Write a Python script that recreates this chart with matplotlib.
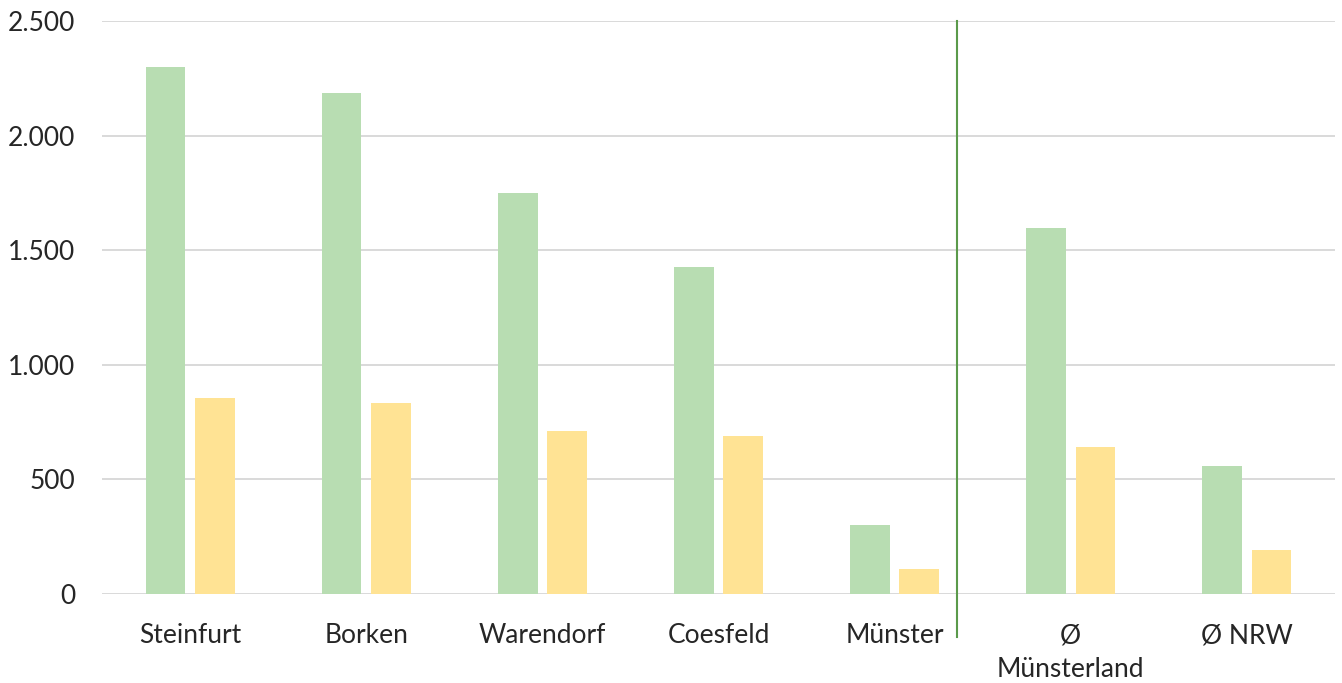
import matplotlib
matplotlib.use('Agg')

import matplotlib.pyplot as plt
from matplotlib.ticker import FuncFormatter
import numpy as np

plt.rcParams['font.family'] = ['Lato', 'DejaVu Sans']

# data
categories = ['Steinfurt', 'Borken', 'Warendorf', 'Coesfeld', 'Münster',
              'Ø\nMünsterland', 'Ø NRW']
green_vals = [2300, 2185, 1750, 1427, 301, 1597, 558]
yellow_vals = [855, 833, 711, 689, 109, 641, 192]
yticks = [0, 500, 1000, 1500, 2000, 2500]

fig = plt.figure(figsize=(13.42, 6.83), dpi=100)
ax = fig.add_axes([0.076, 0.1303, 0.9188, 0.839])

x = np.arange(len(categories))
w = 0.225
ax.bar(x - 0.14, green_vals, w, color='#b8ddb2', zorder=3)
ax.bar(x + 0.14, yellow_vals, w, color='#ffe394', zorder=3)

ax.set_xlim(-0.5, len(categories) - 0.5)
ax.set_ylim(0, 2500)
ax.set_yticks(yticks)
ax.yaxis.set_major_formatter(FuncFormatter(lambda v, p: f'{int(v):,}'.replace(',', '.')))
ax.set_xticks(x)
ax.set_xticklabels(categories, linespacing=1.45)

ax.yaxis.grid(True, color='#d9d9d9', linewidth=1.4, zorder=0)
ax.set_axisbelow(True)
for s in ax.spines.values():
    s.set_visible(False)
ax.tick_params(axis='both', length=0, labelsize=19, colors='#262626')
ax.tick_params(axis='x', pad=21)
ax.tick_params(axis='y', pad=19)
for lbl in ax.get_xticklabels():
    lbl.set_verticalalignment('top')

# divider between districts and averages
ax.plot([4.352, 4.352], [-0.075, 1.0], color='#5b9a4b', linewidth=1.5,
        transform=ax.get_xaxis_transform(), clip_on=False, zorder=4)

plt.savefig('out.png', dpi=100)
